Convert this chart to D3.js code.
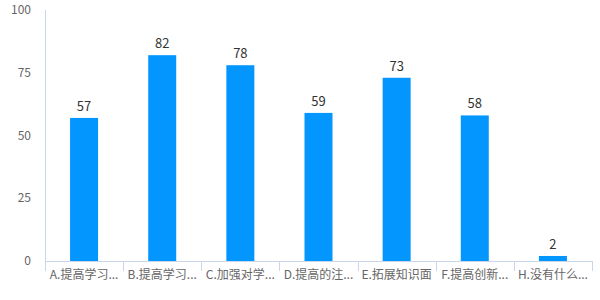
<!DOCTYPE html>
<html>
<head>
<meta charset="utf-8">
<script src="https://cdn.jsdelivr.net/npm/d3@7"></script>
<style>
  body { margin: 0; background: #fff; }
  svg { font-family: "Noto Sans CJK SC", "Noto Sans", sans-serif; }
</style>
</head>
<body>
<div id="chart"></div>
<script>
// Data
const categories = ['A.提高学习...', 'B.提高学习...', 'C.加强对学...', 'D.提高的注...', 'E.拓展知识面', 'F.提高创新...', 'H.没有什么...'];
const values = [57, 82, 78, 59, 73, 58, 2];
const y_ticks = [0, 25, 50, 75, 100];

const chart_width = 600;
const chart_height = 300;
const plot_left = 45, plot_right = 592, plot_top = 10, plot_bottom = 261;

const svg = d3.select('#chart')
    .append('svg')
    .attr('width', chart_width)
    .attr('height', chart_height);

// Scales
const x_scale = d3.scaleBand()
    .domain(categories)
    .range([plot_left, plot_right]);

const y_scale = d3.scaleLinear()
    .domain([0, 100])
    .range([plot_bottom, plot_top]);

const bar_w = 28;

// Axes
const axis_color = '#ccd6eb';

svg.append('line')
    .attr('x1', plot_left + 0.5).attr('x2', plot_left + 0.5)
    .attr('y1', plot_top).attr('y2', plot_bottom + 10)
    .attr('stroke', axis_color);

svg.append('line')
    .attr('x1', plot_left).attr('x2', plot_right)
    .attr('y1', plot_bottom + 0.5).attr('y2', plot_bottom + 0.5)
    .attr('stroke', axis_color);

const tick_pos = categories.map(c => x_scale(c)).concat([plot_right]);
svg.selectAll('.xtick')
    .data(tick_pos)
    .enter().append('line')
    .attr('x1', d => Math.round(d) + 0.5)
    .attr('x2', d => Math.round(d) + 0.5)
    .attr('y1', plot_bottom)
    .attr('y2', plot_bottom + 10)
    .attr('stroke', axis_color);

svg.selectAll('.ylabel')
    .data(y_ticks)
    .enter().append('text')
    .attr('x', 31)
    .attr('y', d => y_scale(d) + 4)
    .attr('text-anchor', 'end')
    .attr('font-size', 12)
    .attr('fill', '#666')
    .text(d => d);

svg.selectAll('.xlabel')
    .data(categories)
    .enter().append('text')
    .attr('x', d => x_scale(d) + x_scale.bandwidth() / 2)
    .attr('y', plot_bottom + 18)
    .attr('text-anchor', 'middle')
    .attr('font-size', 12)
    .attr('fill', '#666')
    .text(d => d);

// Bars
svg.selectAll('.bar')
    .data(values)
    .enter().append('rect')
    .attr('x', (d, i) => x_scale(categories[i]) + x_scale.bandwidth() / 2 - bar_w / 2)
    .attr('y', d => y_scale(d))
    .attr('width', bar_w)
    .attr('height', d => plot_bottom - y_scale(d))
    .attr('fill', '#0396ff');

svg.selectAll('.val')
    .data(values)
    .enter().append('text')
    .attr('x', (d, i) => x_scale(categories[i]) + x_scale.bandwidth() / 2)
    .attr('y', d => y_scale(d) - 7)
    .attr('text-anchor', 'middle')
    .attr('font-size', 13)
    .attr('fill', '#333')
    .text(d => d);
</script>
</body>
</html>
